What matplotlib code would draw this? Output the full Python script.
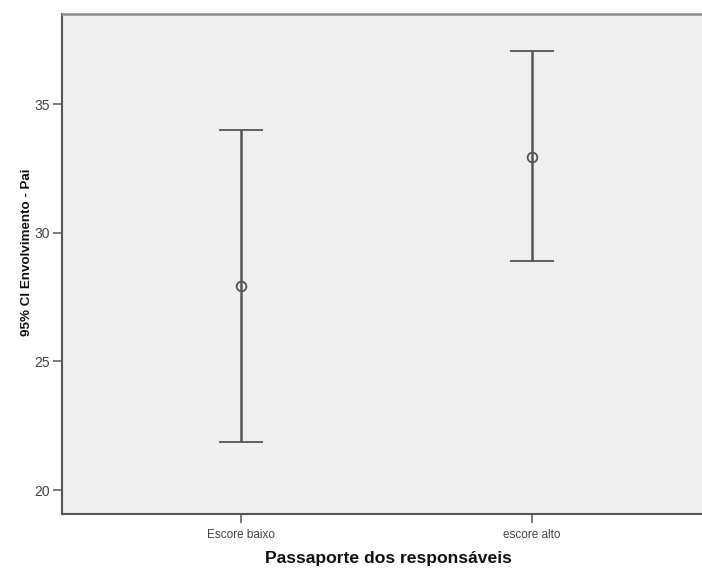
import matplotlib
matplotlib.use("Agg")
import matplotlib.pyplot as plt
import numpy as np

# Group means and 95% confidence limits
categories = ["Escore baixo", "escore alto"]
means = [27.94, 32.95]
ci_lower = [21.88, 28.91]
ci_upper = [33.99, 37.07]
y_ticks = [20, 25, 30, 35]

plt.rcParams["font.family"] = ["Liberation Sans", "DejaVu Sans"]

fig = plt.figure(figsize=(7.02, 5.70), dpi=100)
ax = fig.add_axes([62 / 702, 56 / 570, 1 - 62 / 702, 500 / 570])
ax.set_facecolor("#efefef")

x = np.arange(1, len(categories) + 1)
m = np.array(means)
yerr = np.vstack([m - np.array(ci_lower), np.array(ci_upper) - m])

line_col = "#555555"
ax.errorbar(x, m, yerr=yerr, fmt="o", mfc="none", mec=line_col, mew=1.3,
            ms=7, ecolor=line_col, elinewidth=1.8, capsize=16, capthick=1.8)

ax.set_xlim(0.385, 2.584)
ax.set_ylim(19.07, 38.5)
ax.set_xticks(x)
ax.set_xticklabels(categories)
ax.set_yticks(y_ticks)

for side in ["left", "bottom"]:
    ax.spines[side].set_color("#555555")
    ax.spines[side].set_linewidth(1.5)
ax.spines["top"].set_color("#8c8c8c")
ax.spines["top"].set_linewidth(1.8)
ax.spines["right"].set_visible(False)

ax.tick_params(axis="y", length=6.5, width=1.2, color="#666666",
               labelsize=10, labelcolor="#444444", pad=2)
ax.tick_params(axis="x", length=6.5, width=1.2, color="#666666",
               labelsize=8.5, labelcolor="#444444", pad=4)

fig.text(388.5 / 702, 1 - 559 / 570, "Passaporte dos responsáveis",
         ha="center", va="center", fontsize=12.6, fontweight="bold", color="#111111")
fig.text(27 / 702, 1 - 252.5 / 570, "95% CI Envolvimento - Pai",
         ha="center", va="center", rotation=90, fontsize=9.6,
         fontweight="bold", color="#111111")

fig.savefig("out.png", dpi=100)
